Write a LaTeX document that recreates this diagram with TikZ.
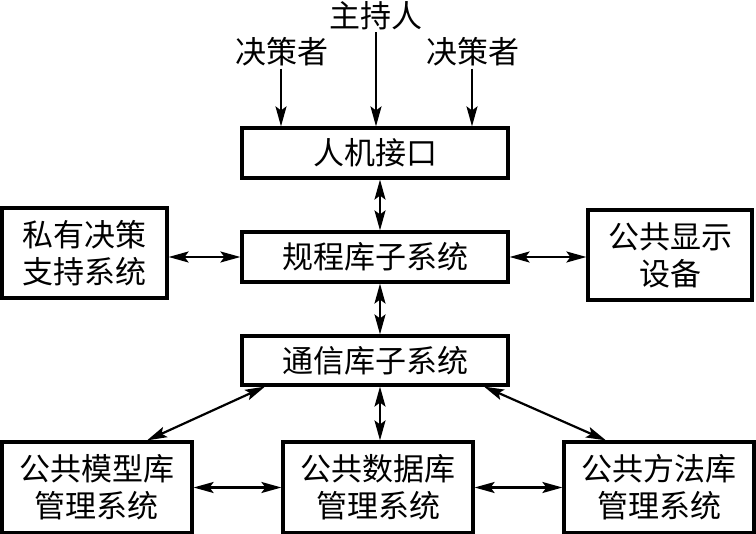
\documentclass[tikz,border=0pt]{standalone}
\usepackage{fontspec}
\newfontfamily\cjk{Noto Sans CJK SC}
\usetikzlibrary{arrows.meta}
\tikzset{
  sysbox/.style={rectangle,draw=black,line width=3.2pt,align=center,inner sep=0pt,
    font=\cjk\fontsize{31}{37}\selectfont},
  lbl/.style={inner sep=2pt,font=\cjk\fontsize{31}{37}\selectfont},
  onearrow/.style={-{Stealth[length=20pt,width=11pt,inset=4pt]},line width=2.2pt},
  biarrow/.style={{Stealth[length=20pt,width=11pt,inset=4pt]}-{Stealth[length=20pt,width=11pt,inset=4pt]},line width=2.2pt}
}
\begin{document}
\begin{tikzpicture}[x=1pt,y=-1pt]
\useasboundingbox (0,0) rectangle (756,534);
% col, row
\node[sysbox, minimum width=266pt, minimum height=50pt] (hmi) at (375,153) {人机接口};
\node[sysbox, minimum width=266pt, minimum height=50pt] (rule) at (375,257) {规程库子系统};
\node[sysbox, minimum width=266pt, minimum height=49pt] (comm) at (375,360.5) {通信库子系统};
\node[sysbox, minimum width=165pt, minimum height=90pt] (priv) at (84.5,253) {私有决策\\支持系统};
\node[sysbox, minimum width=164pt, minimum height=90pt] (disp) at (670,255) {公共显示\\设备};
\node[sysbox, minimum width=190pt, minimum height=91pt] (model) at (97,487.5) {公共模型库\\管理系统};
\node[sysbox, minimum width=190pt, minimum height=91pt] (data) at (378,487.5) {公共数据库\\管理系统};
\node[sysbox, minimum width=190pt, minimum height=91pt] (method) at (659,487.5) {公共方法库\\管理系统};
% people on top
\node[lbl] (host) at (376,16) {主持人};
\node[lbl] (dmL) at (282,52) {决策者};
\node[lbl] (dmR) at (473,52) {决策者};
\draw[onearrow] (host.south) -- (host.south |- hmi.north);
\draw[onearrow] ([xshift=-1pt]dmL.south) -- ([xshift=-1pt]dmL.south |- hmi.north);
\draw[onearrow] ([xshift=-1pt]dmR.south) -- ([xshift=-1pt]dmR.south |- hmi.north);
% links
\draw[biarrow] ([xshift=5pt]hmi.south) -- ([xshift=5pt]rule.north);
\draw[biarrow] ([xshift=5pt]rule.south) -- ([xshift=5pt]comm.north);
\draw[biarrow] (rule.west -| priv.east) -- (rule.west);
\draw[biarrow] (rule.east) -- (rule.east -| disp.west);
\draw[biarrow] ([xshift=5pt]comm.south) -- ([xshift=5pt]comm.south |- data.north);
\draw[biarrow] ([xshift=-110pt]comm.south) -- ([xshift=50pt]model.north);
\draw[biarrow] ([xshift=109pt]comm.south) -- ([xshift=-53pt]method.north);
\draw[biarrow] (model.east) -- (data.west);
\draw[biarrow] (data.east) -- (method.west);
\end{tikzpicture}
\end{document}
